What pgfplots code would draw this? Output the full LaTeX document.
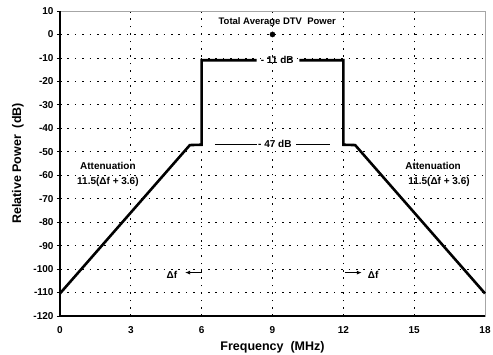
\documentclass[border=0pt]{standalone}
\usepackage{fontspec}
\setmainfont{Liberation Sans}
\usepackage{pgfplots}
\pgfplotsset{compat=1.18}
\usetikzlibrary{arrows.meta}
\begin{document}
\begin{tikzpicture}
\begin{axis}[
  at={(0pt,0pt)}, anchor=south west,
  scale only axis, width=425pt, height=305pt,
  xmin=0, xmax=18, ymin=-120, ymax=10,
  xtick={0,3,...,18}, ytick={-120,-110,...,10},
  /pgf/number format/assume math mode=true,
  tick label style={font=\fontsize{10}{12}\selectfont\bfseries},
  xticklabel style={yshift=-4pt},
  xlabel={Frequency\ \ (MHz)}, ylabel={Relative Power\ \ (dB)},
  label style={font=\fontsize{12.5}{14}\selectfont\bfseries},
  xlabel style={at={(axis description cs:0.5,-0.1016)}, anchor=center},
  ylabel style={at={(axis description cs:-0.0988,0.5)}, anchor=center},
  grid=major,
  grid style={black, line width=0.7pt, dash pattern=on 1.6pt off 5.8pt},
  axis line style={draw=gray!70, line width=0.5pt},
  xtick pos=bottom, ytick pos=left,
  tick align=outside, major tick length=3pt,
  tick style={black, line width=0.8pt},
  x tick style={draw=none},
  clip=false,
]
\addplot[black, line width=2.6pt, line join=miter] coordinates {
  (0,-110.4) (5.5,-47.15) (6,-47) (6,-11) (8.33,-11)
};
\addplot[black, line width=2.6pt, line join=miter] coordinates {
  (10.14,-11) (12,-11) (12,-47) (12.5,-47.15) (18,-110.4)
};
\addplot[only marks, mark=*, mark size=2.6pt, black] coordinates {(9,0)};
\draw[line width=1.6pt] (axis cs:0,10) -- (axis cs:0,-120) -- (axis cs:18,-120);
\draw[line width=0.7pt] (axis cs:6.56,-47) -- (axis cs:8.33,-47);
\draw[line width=0.7pt] (axis cs:10.0,-47) -- (axis cs:11.44,-47);
\node[font=\fontsize{9.5}{11}\selectfont\bfseries] at (axis cs:9.2,5.1) {Total Average DTV\ \ Power};
\node[font=\fontsize{10}{12}\selectfont\bfseries] at (axis cs:9.2,-11) {- 11 dB};
\node[font=\fontsize{10}{12}\selectfont\bfseries] at (axis cs:9.1,-46.8) {- 47 dB};
\node[font=\fontsize{10}{12}\selectfont\bfseries] at (axis cs:2.03,-56) {Attenuation};
\node[font=\fontsize{10}{12}\selectfont\bfseries] at (axis cs:2.03,-62.8) {11.5(Δf + 3.6)};
\node[font=\fontsize{10}{12}\selectfont\bfseries] at (axis cs:15.8,-56) {Attenuation};
\node[font=\fontsize{10}{12}\selectfont\bfseries] at (axis cs:16.05,-62.8) {11.5(Δf + 3.6)};
\node[font=\fontsize{10}{12}\selectfont\bfseries] at (axis cs:4.74,-102.3) {Δf};
\node[font=\fontsize{10}{12}\selectfont\bfseries] at (axis cs:13.26,-102.3) {Δf};
\draw[line width=0.8pt, -{Latex[length=5pt,width=4pt]}] (axis cs:6.0,-101.5) -- (axis cs:5.3,-101.5);
\draw[line width=0.8pt, -{Latex[length=5pt,width=4pt]}] (axis cs:12.07,-101.5) -- (axis cs:12.78,-101.5);
\end{axis}
\pgfresetboundingbox
\path[use as bounding box] (-60pt,-39pt) rectangle (433pt,316pt);
\end{tikzpicture}
\end{document}
